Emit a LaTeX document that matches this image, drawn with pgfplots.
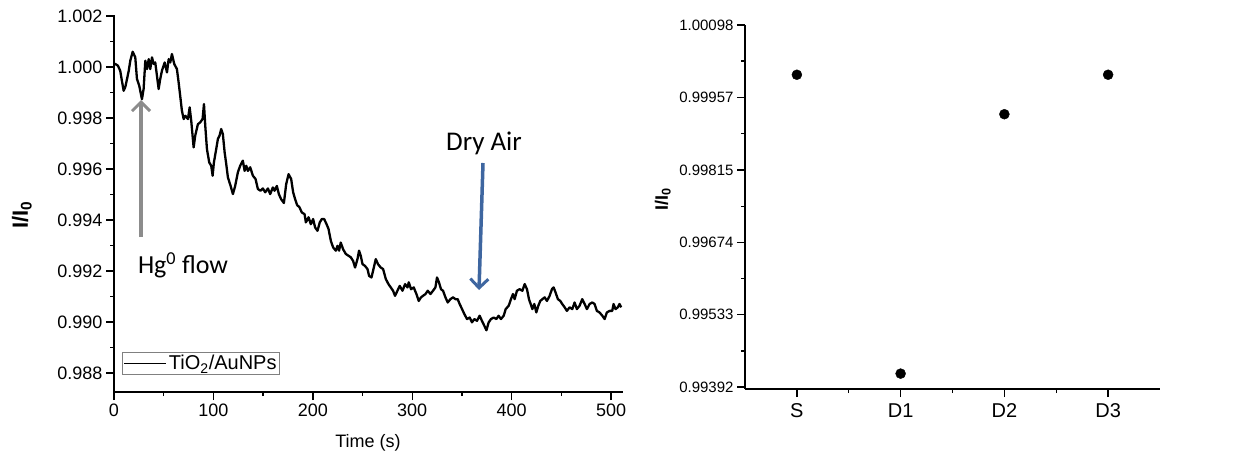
\documentclass[border=0pt]{standalone}
\usepackage{pgfplots}
\pgfplotsset{compat=1.18}
\usepackage{pgfplotstable}
\usepackage{fontspec}
\setmainfont{Liberation Sans}
\newfontfamily\calibri{Carlito}
\usetikzlibrary{arrows.meta}
\definecolor{arrowgray}{RGB}{140,140,140}
\definecolor{arrowblue}{RGB}{62,102,160}

\pgfplotstableread{
t v
0.3 1.00012
1.3 1.00012
4.0 1.00005
6.3 0.99985
7.3 0.99961
9.7 0.99907
11.4 0.99922
13.1 0.99953
14.8 0.99985
16.4 1.00025
18.8 1.00060
21.4 1.00038
23.1 0.99953
25.4 0.99927
28.1 0.99874
29.8 0.99914
31.5 1.00025
33.2 0.99992
34.9 1.00031
36.5 0.99992
38.2 1.00038
39.9 1.00012
41.5 1.00018
43.2 0.99966
44.9 0.99914
46.5 0.99953
48.2 0.99985
51.0 1.00018
53.3 0.99979
55.0 1.00031
56.6 1.00018
58.3 1.00051
60.6 1.00012
63.3 0.99992
65.0 0.99940
66.6 0.99887
68.3 0.99829
70.1 0.99796
71.7 0.99809
74.4 0.99796
76.1 0.99842
77.7 0.99789
80.1 0.99685
81.7 0.99731
84.4 0.99776
86.7 0.99783
89.1 0.99796
90.5 0.99855
91.8 0.99770
93.5 0.99678
95.8 0.99626
97.8 0.99613
99.2 0.99574
100.5 0.99626
102.8 0.99678
104.5 0.99718
106.2 0.99731
107.8 0.99757
109.5 0.99737
111.3 0.99665
112.9 0.99620
114.6 0.99567
117.3 0.99534
119.6 0.99502
121.9 0.99534
124.6 0.99587
126.9 0.99613
129.6 0.99633
131.4 0.99593
133.0 0.99613
134.7 0.99593
137.0 0.99607
139.7 0.99574
142.4 0.99561
144.7 0.99522
147.4 0.99515
149.7 0.99524
152.1 0.99509
154.8 0.99524
157.1 0.99502
159.8 0.99528
161.5 0.99515
163.8 0.99534
165.8 0.99502
168.1 0.99482
170.9 0.99467
173.2 0.99541
175.6 0.99580
178.2 0.99561
180.2 0.99509
182.2 0.99482
184.2 0.99459
186.6 0.99450
188.9 0.99430
191.7 0.99423
193.0 0.99391
195.7 0.99411
198.0 0.99384
200.3 0.99404
202.3 0.99371
204.7 0.99358
207.0 0.99391
209.0 0.99404
211.4 0.99404
213.8 0.99384
215.8 0.99365
218.1 0.99319
220.4 0.99293
223.1 0.99280
224.8 0.99299
226.4 0.99280
228.1 0.99312
230.4 0.99286
233.2 0.99267
235.9 0.99260
238.2 0.99254
240.5 0.99240
242.5 0.99214
244.9 0.99247
246.5 0.99280
248.2 0.99260
250.0 0.99227
252.3 0.99221
255.0 0.99208
256.6 0.99181
259.0 0.99175
261.0 0.99208
263.3 0.99247
265.6 0.99227
268.3 0.99214
270.7 0.99208
273.4 0.99169
276.1 0.99149
278.4 0.99136
280.7 0.99123
282.7 0.99103
285.1 0.99123
287.4 0.99142
290.2 0.99123
292.8 0.99149
295.2 0.99136
296.5 0.99156
298.8 0.99129
301.5 0.99136
304.2 0.99110
306.5 0.99083
308.8 0.99097
310.8 0.99103
313.3 0.99110
315.6 0.99123
318.3 0.99110
320.9 0.99123
323.3 0.99136
324.9 0.99175
326.9 0.99156
328.9 0.99129
331.0 0.99123
333.4 0.99097
335.7 0.99077
338.4 0.99090
341.0 0.99097
343.4 0.99090
345.7 0.99090
347.7 0.99071
350.1 0.99051
352.5 0.99031
355.1 0.99012
357.8 0.99018
360.1 0.98999
362.5 0.99012
365.1 0.99005
367.8 0.99025
370.1 0.99005
372.6 0.98985
374.6 0.98968
376.9 0.98999
379.2 0.99012
381.9 0.99018
384.6 0.99012
386.9 0.99025
389.2 0.99012
392.0 0.99025
394.0 0.99051
397.0 0.99064
399.3 0.99090
401.3 0.99110
403.0 0.99090
405.3 0.99123
408.0 0.99129
410.8 0.99123
413.1 0.99149
415.4 0.99129
417.4 0.99090
419.1 0.99071
420.8 0.99051
422.8 0.99071
424.8 0.99038
426.8 0.99064
428.8 0.99083
430.9 0.99090
433.2 0.99097
435.5 0.99083
438.2 0.99103
440.5 0.99129
442.2 0.99136
444.2 0.99116
446.5 0.99090
448.9 0.99083
450.9 0.99071
453.3 0.99058
455.6 0.99044
458.3 0.99058
461.0 0.99051
463.3 0.99077
465.6 0.99051
468.3 0.99064
471.0 0.99090
473.4 0.99071
475.7 0.99051
478.4 0.99071
481.1 0.99077
483.4 0.99071
485.7 0.99044
488.4 0.99038
491.2 0.99025
493.5 0.99012
495.8 0.99038
498.5 0.99044
501.2 0.99044
502.5 0.99071
504.5 0.99051
506.8 0.99058
508.5 0.99071
510.2 0.99058
}\tracedata

\pgfplotstableread{
x v
0 1.00001
1 0.99418
2 0.99924
3 1.00001
}\pointdata

\begin{document}
\begin{tikzpicture}
\useasboundingbox (0pt,0pt) rectangle (1256pt,456pt);

\begin{axis}[
  at={(114pt,64pt)}, anchor=south west,
  scale only axis, width=509pt, height=377pt,
  xmin=0, xmax=512, ymin=0.98726, ymax=1.00204,
  axis x line*=bottom, axis y line*=left,
  axis line style={line width=1.6pt},
  every tick/.style={line width=1.4pt, black},
  tick align=outside,
  major tick length=8pt, minor tick length=4pt,
  xtick={0,100,...,500}, minor xtick={50,150,...,450},
  ytick={0.988,0.990,...,1.002},
  minor ytick={0.989,0.991,...,1.001},
  /pgf/number format/assume math mode=true,
  yticklabel style={/pgf/number format/.cd, fixed, fixed zerofill, precision=3},
  xticklabel style={/pgf/number format/.cd, fixed},
  scaled y ticks=false,
  tick label style={font=\fontsize{18}{20}\selectfont},
  xlabel={Time (s)},
  xlabel style={font=\fontsize{18}{20}\selectfont, at={(axis description cs:0.499,-0.135)}, anchor=center},
  ylabel={\textbf{I/I\textsubscript{0}}},
  ylabel style={font=\fontsize{22}{24}\selectfont, at={(axis description cs:-0.181,0.47)}, anchor=center, rotate=0},
  legend style={at={(axis description cs:0.0157,0.106)}, anchor=north west,
    draw=gray, line width=0.8pt, font=\fontsize{20}{22}\selectfont,
    inner xsep=1pt, inner ysep=1pt},
  legend image code/.code={\draw[#1, line width=1.6pt] (0pt,0pt) -- (42pt,0pt);},
  legend cell align=left,
]
\addplot[black, line width=2.3pt, line join=round] table[x=t, y=v] {\tracedata};
\addlegendentry{TiO\textsubscript{2}/AuNPs}
\end{axis}

\begin{axis}[
  at={(745pt,67pt)}, anchor=south west,
  scale only axis, width=415pt, height=364pt,
  xmin=-0.5, xmax=3.5, ymin=0.99388, ymax=1.00098,
  axis x line*=bottom, axis y line*=left,
  axis line style={line width=1.6pt},
  every tick/.style={line width=1.4pt, black},
  tick align=outside,
  major tick length=8pt, minor tick length=4pt,
  xtick={0,1,2,3}, xticklabels={S,D1,D2,D3},
  minor xtick={0.5,1.5,2.5},
  ytick={0.99392,0.99533,0.99674,0.99815,0.99957,1.00098},
  yticklabels={0.99392,0.99533,0.99674,0.99815,0.99957,1.00098},
  minor ytick={0.994625,0.996035,0.997445,0.99886,1.000275},
  scaled y ticks=false,
  yticklabel style={font=\fontsize{15}{17}\selectfont},
  xticklabel style={font=\fontsize{20}{22}\selectfont, yshift=-3pt},
  ylabel={\textbf{I/I\textsubscript{0}}},
  ylabel style={font=\fontsize{18}{20}\selectfont, at={(axis description cs:-0.198,0.52)}, anchor=center},
]
\addplot[only marks, mark=*, mark size=5pt, black] table[x=x, y=v] {\pointdata};
\end{axis}

% annotations
\draw[arrowgray, line width=3.5pt, -{Straight Barb[length=9pt,width=18pt,line width=3pt]}] (141pt,219pt) -- (141pt,356pt);
\node[font=\calibri\fontsize{26}{28}\selectfont, anchor=center] at (183pt,191pt) {Hg\textsuperscript{0} flow};
\draw[arrowblue, line width=3.5pt, -{Straight Barb[length=9pt,width=18pt,line width=3pt]}] (483pt,293pt) -- (479pt,166pt);
\node[font=\calibri\fontsize{27}{29}\selectfont, anchor=center] at (484pt,313pt) {Dry Air};
\end{tikzpicture}
\end{document}
